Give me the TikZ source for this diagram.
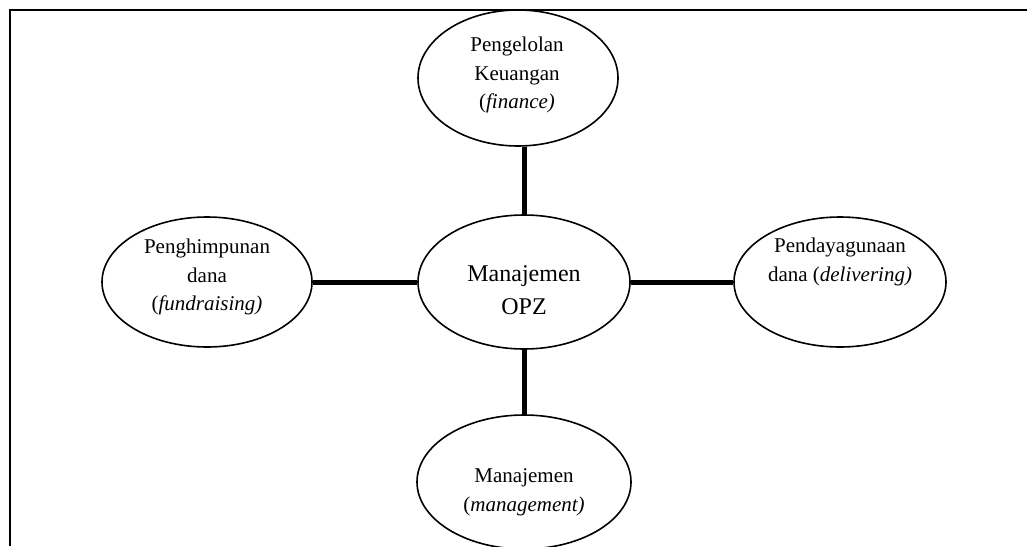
\documentclass[tikz,border=0pt]{standalone}
\usepackage{fontspec}
\setmainfont{Liberation Serif}
\usetikzlibrary{shapes.geometric}
\begin{document}
\begin{tikzpicture}[x=0.5pt,y=-0.5pt,
  oval/.style={draw,ellipse,line width=0.8pt,inner sep=0pt},
  lbl/.style={align=center,inner sep=0pt,font=\fontsize{10.5pt}{14.3pt}\selectfont},
  biglbl/.style={align=center,inner sep=0pt,font=\fontsize{12pt}{16.5pt}\selectfont},
  link/.style={line width=2.5pt},
  frameline/.style={line width=0.6pt}]
\useasboundingbox (0,0) rectangle (1027,546);
% frame
\coordinate (fa) at (10,546);
\coordinate (fb) at (10,10);
\coordinate (fc) at (1027,10);
\draw[frameline] (fa) -- (fb) -- (fc);
% ellipses
\node[oval,minimum width=100pt,minimum height=68pt] (top) at (518,78) {};
\node[oval,minimum width=106pt,minimum height=67pt] (mid) at (524,282) {};
\node[oval,minimum width=105pt,minimum height=65pt] (left) at (207,282) {};
\node[oval,minimum width=106pt,minimum height=65pt] (right) at (840,282) {};
\node[oval,minimum width=107pt,minimum height=67pt] (bot) at (524,482) {};
% texts
\node[lbl] (ttop) at (517,75) {Pengelolan\\Keuangan\\(\textit{finance)}};
\node[biglbl] (tmid) at (524,290) {Manajemen\\OPZ};
\node[lbl] (tleft) at (207,277) {Penghimpunan\\dana\\(\textit{fundraising)}};
\node[lbl] (tright) at (840,262) {Pendayagunaan\\dana (\textit{delivering)}};
\node[lbl] (tbot) at (524,492) {Manajemen\\(\textit{management)}};
% connectors
\draw[link] (mid.north) -- (mid.north |- top.south);
\draw[link] (mid.south) -- (mid.south |- bot.north);
\draw[link] (left.east) -- (mid.west);
\draw[link] (mid.east) -- (right.west);
\end{tikzpicture}
\end{document}
